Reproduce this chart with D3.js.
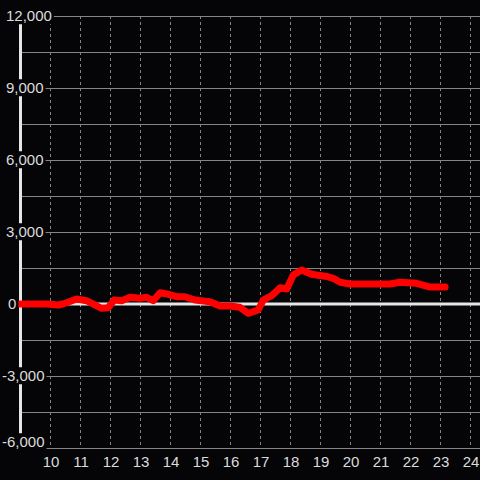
<!DOCTYPE html>
<html>
<head>
<meta charset="utf-8">
<script src="https://cdn.jsdelivr.net/npm/d3@7"></script>
<style>
  html, body { margin: 0; padding: 0; background: #050507; }
  svg { display: block; }
</style>
</head>
<body>
<svg id="chart" width="480" height="480"></svg>
<script>
// data
var xValues = [9.0, 9.9, 10.28, 10.5, 10.89, 11.22, 11.5, 11.72, 11.94, 12.14, 12.39, 12.67, 13.0, 13.22,
  13.44, 13.67, 13.89, 14.22, 14.5, 14.83, 15.33, 15.67, 16.0, 16.33, 16.61, 16.94, 17.11, 17.39,
  17.67, 17.89, 18.11, 18.39, 18.72, 19.22, 19.44, 19.67, 20.0, 21.33, 21.67, 22.22, 22.67, 23.17];
var yValues = [0, 0, -42, 29, 208, 138, -42, -179, -154, 167, 138, 279, 237, 279,
  138, 471, 417, 304, 304, 167, 96, -83, -83, -138, -388, -250, 167, 346,
  679, 625, 1208, 1417, 1238, 1146, 1071, 904, 833, 833, 904, 863, 708, 708];
var xTicks = [10, 11, 12, 13, 14, 15, 16, 17, 18, 19, 20, 21, 22, 23, 24];
var yGrid = d3.range(-6000, 12001, 1500);
var yLabels = [-6000, -3000, 0, 3000, 6000, 9000, 12000];

var svg = d3.select("#chart");
var fmt = d3.format(",");

var x = d3.scaleLinear().domain([9, 24 + 1 / 3]).range([20, 480]);
var y = d3.scaleLinear().domain([-6000, 12000]).range([448, 16]);

svg.append("rect").attr("width", 480).attr("height", 480).attr("fill", "#050507");

// horizontal grid
svg.append("g")
  .selectAll("line")
  .data(yGrid.filter(d => d != 0))
  .enter().append("line")
  .attr("x1", 20).attr("x2", 480)
  .attr("y1", d => y(d) + 0.5).attr("y2", d => y(d) + 0.5)
  .attr("stroke", "#858585")
  .attr("stroke-width", 1);

// vertical dashed grid
svg.append("g")
  .selectAll("line")
  .data(xTicks)
  .enter().append("line")
  .attr("x1", d => x(d) + 0.5).attr("x2", d => x(d) + 0.5)
  .attr("y1", y(12000)).attr("y2", y(-6000))
  .attr("stroke", "#858585")
  .attr("stroke-dasharray", "3,3")
  .attr("stroke-width", 1);

// zero line and left axis
svg.append("line")
  .attr("x1", 20).attr("x2", 480)
  .attr("y1", y(0)).attr("y2", y(0))
  .attr("stroke", "#e6e6e6").attr("stroke-width", 3);
svg.append("line")
  .attr("x1", 20.5).attr("x2", 20.5)
  .attr("y1", y(12000)).attr("y2", y(-6000))
  .attr("stroke", "#e6e6e6").attr("stroke-width", 3);

// the series
var line = d3.line()
  .x((d, i) => x(xValues[i]))
  .y(d => y(d));

svg.append("path")
  .datum(yValues)
  .attr("d", line)
  .attr("fill", "none")
  .attr("stroke", "#ff0000")
  .attr("stroke-width", 7)
  .attr("stroke-linejoin", "round")
  .attr("stroke-linecap", "round");

// y labels with black backing
var yl = svg.append("g").selectAll("g")
  .data(yLabels)
  .enter().append("g")
  .attr("transform", d => "translate(0," + (d == -6000 ? y(d) - 6 : y(d)) + ")");

yl.append("text")
  .attr("x", d => d < 0 ? 2 : (d == 0 ? 8 : 6))
  .attr("dy", "0.35em")
  .attr("font-family", "'Liberation Sans', Arial, sans-serif")
  .attr("font-size", 15)
  .attr("fill", "#dcdcdc")
  .text(d => fmt(d).replace("−", "-"))
  .each(function () {
    var b = this.getBBox();
    d3.select(this.parentNode).insert("rect", "text")
      .attr("x", b.x - 2).attr("y", b.y)
      .attr("width", b.width + 4).attr("height", b.height)
      .attr("fill", "#050507");
  });

// x labels
svg.append("g").selectAll("text")
  .data(xTicks)
  .enter().append("text")
  .attr("x", d => x(d) + 1)
  .attr("y", 462)
  .attr("dy", "0.35em")
  .attr("text-anchor", "middle")
  .attr("font-family", "'Liberation Sans', Arial, sans-serif")
  .attr("font-size", 15)
  .attr("fill", "#dcdcdc")
  .text(d => d);
</script>
</body>
</html>
